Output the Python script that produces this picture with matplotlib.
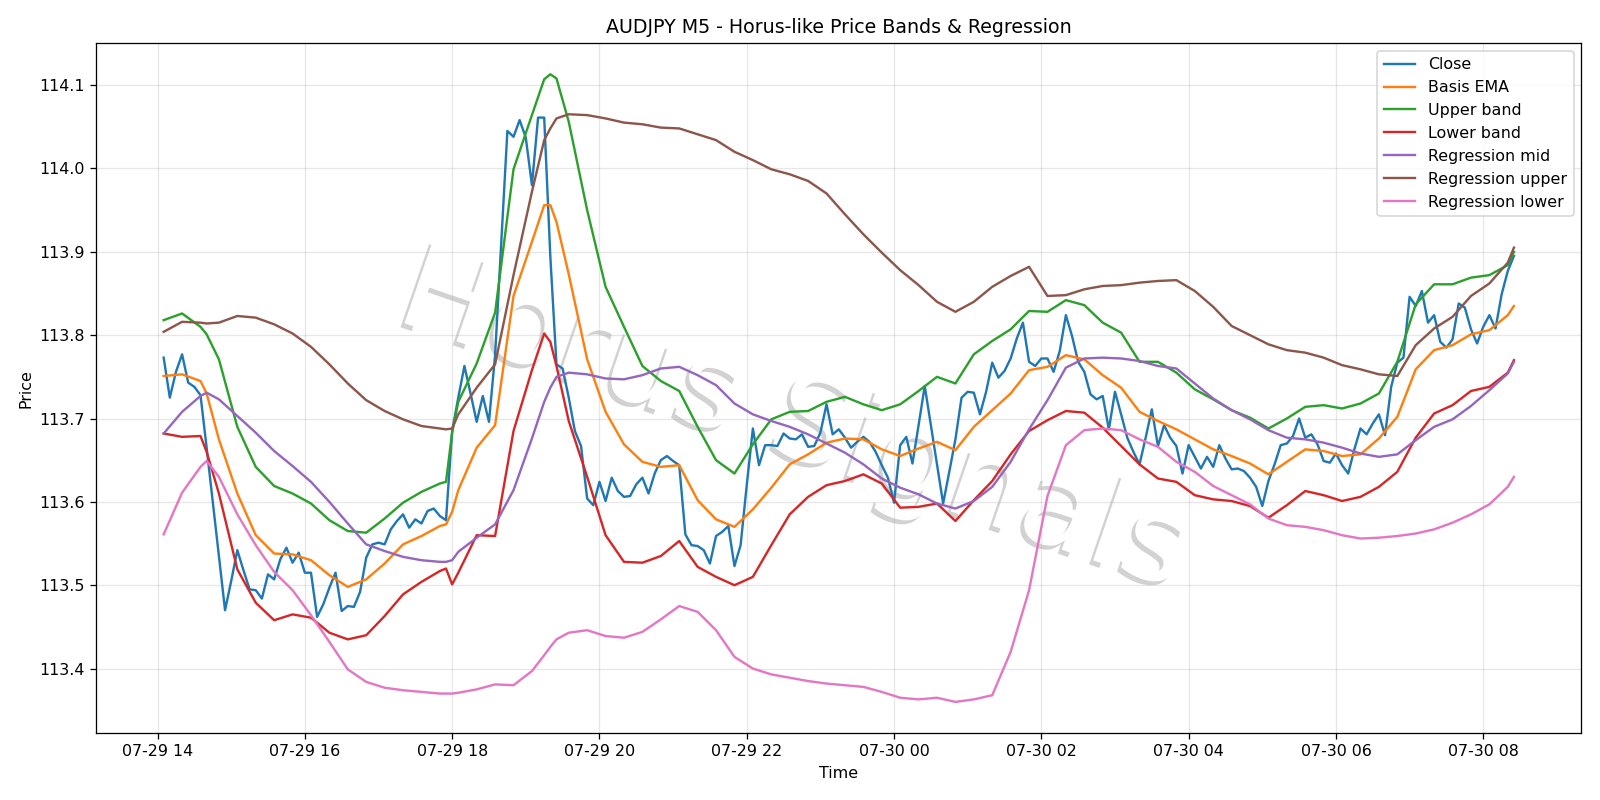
import numpy as np
import pandas as pd
import matplotlib
matplotlib.use('Agg')
import matplotlib.pyplot as plt
import matplotlib.patheffects as pe

# AUDJPY M5 closes, 07-29 14:05 -> 07-30 08:25
close = [
    113.773, 113.725, 113.756, 113.777, 113.743, 113.738, 113.728, 113.665, 113.600, 113.535,
    113.470, 113.505, 113.542, 113.518, 113.495, 113.494, 113.484, 113.513, 113.507, 113.531,
    113.545, 113.527, 113.539, 113.515, 113.515, 113.462, 113.477, 113.497, 113.515, 113.469,
    113.475, 113.474, 113.492, 113.533, 113.549, 113.551, 113.549, 113.567, 113.577, 113.585,
    113.569, 113.579, 113.574, 113.589, 113.592, 113.583, 113.578, 113.685, 113.725, 113.763,
    113.730, 113.696, 113.727, 113.696, 113.776, 113.910, 114.045, 114.038, 114.058, 114.037,
    113.980, 114.061, 114.061, 113.894, 113.765, 113.760, 113.725, 113.685, 113.667, 113.604,
    113.596, 113.624, 113.601, 113.629, 113.613, 113.606, 113.607, 113.621, 113.629, 113.610,
    113.634, 113.650, 113.655, 113.649, 113.644, 113.561, 113.548, 113.547, 113.542, 113.526,
    113.559, 113.564, 113.571, 113.523, 113.548, 113.620, 113.688, 113.644, 113.668, 113.668,
    113.667, 113.682, 113.676, 113.675, 113.681, 113.666, 113.667, 113.683, 113.717, 113.681,
    113.687, 113.677, 113.665, 113.672, 113.678, 113.672, 113.660, 113.644, 113.629, 113.599,
    113.668, 113.678, 113.646, 113.692, 113.739, 113.692, 113.645, 113.598, 113.636, 113.675,
    113.725, 113.732, 113.731, 113.705, 113.732, 113.767, 113.749, 113.757, 113.772, 113.796,
    113.815, 113.768, 113.763, 113.772, 113.772, 113.756, 113.781, 113.824, 113.799, 113.768,
    113.756, 113.729, 113.723, 113.727, 113.687, 113.732, 113.705, 113.677, 113.660, 113.645,
    113.677, 113.711, 113.667, 113.692, 113.677, 113.667, 113.634, 113.668, 113.654, 113.640,
    113.654, 113.642, 113.668, 113.652, 113.639, 113.640, 113.637, 113.629, 113.618, 113.595,
    113.625, 113.645, 113.668, 113.670, 113.679, 113.700, 113.677, 113.681, 113.669, 113.649,
    113.647, 113.658, 113.644, 113.634, 113.663, 113.688, 113.681, 113.694, 113.705, 113.680,
    113.738, 113.767, 113.773, 113.846, 113.835, 113.853, 113.815, 113.824, 113.792, 113.785,
    113.795, 113.838, 113.833, 113.807, 113.790, 113.810, 113.824, 113.808, 113.849, 113.877,
    113.895,
]

# bar numbers (5-min steps from the first close) where the smooth lines were read
knots = sorted(set(range(0, 220, 3)) | {7, 46, 47, 62, 64, 220})

basis_ema = [
    113.751, 113.753, 113.745, 113.730, 113.675, 113.610, 113.560, 113.538, 113.537, 113.530, 113.512,
    113.498, 113.507, 113.526, 113.549, 113.559, 113.571, 113.573, 113.588, 113.614, 113.665,
    113.692, 113.847, 113.912, 113.956, 113.956, 113.936, 113.873, 113.771, 113.708, 113.669, 113.648, 113.642,
    113.644, 113.602, 113.579, 113.570, 113.591, 113.617, 113.645, 113.657, 113.671, 113.676,
    113.675, 113.663, 113.655, 113.664, 113.672, 113.662, 113.690, 113.710, 113.730, 113.758,
    113.762, 113.776, 113.771, 113.752, 113.737, 113.708, 113.697, 113.687, 113.675, 113.663,
    113.655, 113.646, 113.633, 113.648, 113.663, 113.661, 113.655, 113.657, 113.676, 113.702,
    113.759, 113.782, 113.788, 113.801, 113.806, 113.824, 113.835,
]
upper_band = [
    113.818, 113.826, 113.810, 113.801, 113.771, 113.690, 113.642, 113.619, 113.610, 113.598, 113.578,
    113.565, 113.563, 113.580, 113.599, 113.612, 113.622, 113.624, 113.683, 113.720, 113.766,
    113.827, 113.999, 114.064, 114.107, 114.113, 114.108, 114.056, 113.950, 113.858, 113.810, 113.763, 113.745,
    113.733, 113.690, 113.650, 113.634, 113.669, 113.699, 113.708, 113.709, 113.720, 113.726,
    113.717, 113.710, 113.717, 113.733, 113.750, 113.742, 113.777, 113.793, 113.807, 113.829,
    113.828, 113.842, 113.836, 113.815, 113.803, 113.768, 113.768, 113.755, 113.735, 113.723,
    113.710, 113.701, 113.688, 113.700, 113.714, 113.716, 113.712, 113.718, 113.730, 113.768,
    113.837, 113.861, 113.861, 113.869, 113.872, 113.884, 113.900,
]
lower_band = [
    113.682, 113.678, 113.679, 113.660, 113.610, 113.519, 113.479, 113.458, 113.465, 113.461, 113.443,
    113.435, 113.440, 113.463, 113.489, 113.504, 113.517, 113.520, 113.501, 113.515, 113.560,
    113.559, 113.685, 113.758, 113.802, 113.792, 113.763, 113.697, 113.630, 113.560, 113.528, 113.527, 113.535,
    113.553, 113.522, 113.510, 113.500, 113.510, 113.548, 113.585, 113.606, 113.620, 113.625,
    113.633, 113.622, 113.593, 113.594, 113.598, 113.577, 113.602, 113.625, 113.657, 113.685,
    113.698, 113.709, 113.707, 113.689, 113.667, 113.645, 113.628, 113.624, 113.608, 113.603,
    113.601, 113.595, 113.581, 113.596, 113.613, 113.608, 113.601, 113.606, 113.618, 113.636,
    113.677, 113.706, 113.716, 113.733, 113.738, 113.755, 113.770,
]
reg_mid = [
    113.682, 113.708, 113.727, 113.731, 113.723, 113.703, 113.683, 113.661, 113.643, 113.624, 113.600,
    113.574, 113.549, 113.541, 113.534, 113.530, 113.528, 113.528, 113.530, 113.540, 113.557,
    113.573, 113.614, 113.676, 113.720, 113.737, 113.750, 113.755, 113.753, 113.748, 113.747, 113.752, 113.760,
    113.762, 113.752, 113.740, 113.718, 113.705, 113.697, 113.690, 113.681, 113.670, 113.659,
    113.645, 113.628, 113.617, 113.609, 113.598, 113.592, 113.601, 113.618, 113.648, 113.687,
    113.722, 113.761, 113.772, 113.773, 113.772, 113.769, 113.763, 113.760, 113.742, 113.724,
    113.710, 113.699, 113.686, 113.677, 113.675, 113.671, 113.665, 113.658, 113.654, 113.657,
    113.674, 113.690, 113.699, 113.715, 113.734, 113.754, 113.768,
]
reg_upper = [
    113.804, 113.816, 113.815, 113.814, 113.815, 113.823, 113.821, 113.813, 113.802, 113.786, 113.765,
    113.742, 113.722, 113.709, 113.699, 113.691, 113.688, 113.687, 113.688, 113.705, 113.737,
    113.765, 113.872, 113.972, 114.034, 114.048, 114.060, 114.065, 114.064, 114.060, 114.055, 114.053, 114.049,
    114.048, 114.041, 114.034, 114.020, 114.010, 113.999, 113.993, 113.985, 113.970, 113.945,
    113.921, 113.899, 113.878, 113.860, 113.840, 113.828, 113.840, 113.858, 113.871, 113.882,
    113.847, 113.848, 113.855, 113.859, 113.860, 113.863, 113.865, 113.866, 113.853, 113.834,
    113.811, 113.800, 113.789, 113.782, 113.779, 113.773, 113.764, 113.759, 113.753, 113.751,
    113.788, 113.808, 113.822, 113.847, 113.862, 113.887, 113.905,
]
reg_lower = [
    113.561, 113.611, 113.642, 113.649, 113.630, 113.585, 113.548, 113.516, 113.494, 113.464, 113.432,
    113.399, 113.384, 113.377, 113.374, 113.372, 113.370, 113.370, 113.370, 113.371, 113.375,
    113.381, 113.380, 113.397, 113.416, 113.426, 113.435, 113.443, 113.446, 113.439, 113.437, 113.444, 113.459,
    113.475, 113.468, 113.446, 113.414, 113.400, 113.393, 113.389, 113.385, 113.382, 113.380,
    113.378, 113.372, 113.365, 113.363, 113.365, 113.360, 113.363, 113.368, 113.420, 113.494,
    113.607, 113.668, 113.686, 113.688, 113.686, 113.675, 113.666, 113.648, 113.636, 113.619,
    113.608, 113.597, 113.580, 113.572, 113.570, 113.566, 113.560, 113.556, 113.557, 113.559,
    113.562, 113.567, 113.575, 113.585, 113.597, 113.618, 113.630,
]

times = pd.date_range('2025-07-29 14:05', periods=len(close), freq='5min')
kt = times[knots]

fig, ax = plt.subplots(figsize=(14, 7))
fig.subplots_adjust(left=0.0601, right=0.9884, bottom=0.0834, top=0.9464)

ax.plot(times, close, label='Close')
ax.plot(kt, basis_ema, label='Basis EMA')
ax.plot(kt, upper_band, label='Upper band')
ax.plot(kt, lower_band, label='Lower band')
ax.plot(kt, reg_mid, label='Regression mid')
ax.plot(kt, reg_upper, label='Regression upper')
ax.plot(kt, reg_lower, label='Regression lower')

# watermark
ax.text(0.47, 0.45, 'Horus Signals', transform=ax.transAxes, fontsize=76,
        rotation=-19, ha='center', va='center', color='white', zorder=1,
        path_effects=[pe.withSimplePatchShadow(offset=(-2.5, -2.5), shadow_rgbFace='gray', alpha=0.35)])

ax.set_title('AUDJPY M5 - Horus-like Price Bands & Regression')
ax.set_xlabel('Time')
ax.set_ylabel('Price')
ax.grid(True, alpha=0.3)
ax.legend(loc='upper right')

fig.savefig('out.png', dpi=1600 / 14)
